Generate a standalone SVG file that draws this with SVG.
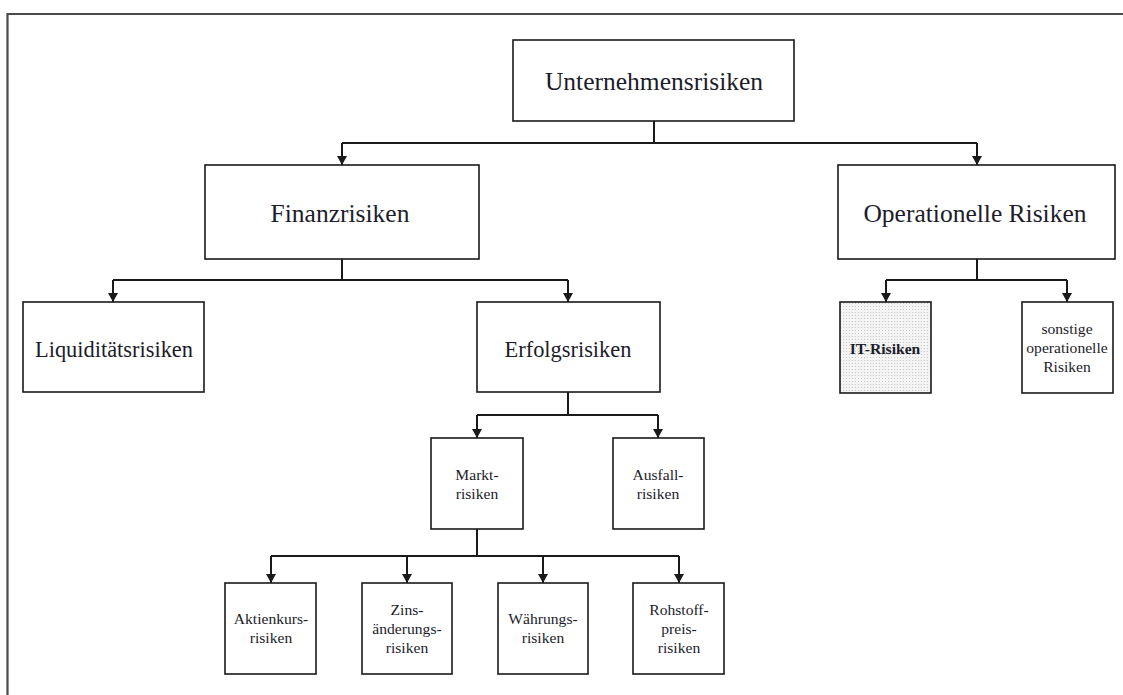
<svg xmlns="http://www.w3.org/2000/svg" width="1123" height="695" viewBox="0 0 1123 695">
  <style>
    .box { fill: #fff; stroke: #1a1a1a; stroke-width: 1.6; }
    .hatched { fill: url(#dots); stroke: #1a1a1a; stroke-width: 1.6; }
    .frame { fill: none; stroke: #4a4a4a; stroke-width: 2.2; }
    .link { fill: none; stroke: #1a1a1a; stroke-width: 2; }
    .arrow { fill: none; stroke: #1a1a1a; stroke-width: 2; marker-end: url(#tip); }
    .big { font-family: "Liberation Serif", "Times New Roman", serif; font-size: 25.5px; fill: #1c1c2a; text-anchor: middle; }
    .mid { font-family: "Liberation Serif", "Times New Roman", serif; font-size: 22.4px; fill: #1c1c2a; text-anchor: middle; }
    .small { font-family: "Liberation Serif", "Times New Roman", serif; font-size: 15.6px; fill: #1c1c2a; text-anchor: middle; }
    .bold { font-weight: bold; }
  </style>
  <defs>
    <marker id="tip" markerWidth="10" markerHeight="10" refX="9" refY="5" orient="auto" markerUnits="userSpaceOnUse">
      <path d="M0,0 L9,5 L0,10 Z" fill="#1a1a1a"/>
    </marker>
    <pattern id="dots" width="3" height="3" patternUnits="userSpaceOnUse">
      <rect width="3" height="3" fill="#f4f4f4"/>
      <rect width="1" height="1" fill="#c8c8c8"/>
    </pattern>
  </defs>

  <rect width="1123" height="695" fill="#fff"/>

  <!-- page frame -->
  <path class="frame" d="M7.5,695 V14 H1123"/>

  <!-- connectors -->
  <g id="connectors">
    <path class="link" d="M654,121 V143 M342,143 H977"/>
    <path class="arrow" d="M342,143 V165"/>
    <path class="arrow" d="M977,143 V165"/>

    <path class="link" d="M342,259 V280 M113,280 H568"/>
    <path class="arrow" d="M113,280 V302"/>
    <path class="arrow" d="M568,280 V302"/>

    <path class="link" d="M977,259 V280 M886,280 H1067"/>
    <path class="arrow" d="M886,280 V302"/>
    <path class="arrow" d="M1067,280 V302"/>

    <path class="link" d="M568,392 V415 M477,415 H658"/>
    <path class="arrow" d="M477,415 V438"/>
    <path class="arrow" d="M658,415 V438"/>

    <path class="link" d="M477,529 V556 M271,556 H679"/>
    <path class="arrow" d="M271,556 V583"/>
    <path class="arrow" d="M407,556 V583"/>
    <path class="arrow" d="M543,556 V583"/>
    <path class="arrow" d="M679,556 V583"/>
  </g>

  <g id="unternehmensrisiken">
    <rect class="box" x="513" y="40" width="281" height="81"/>
    <text class="big" x="654" y="90">Unternehmensrisiken</text>
  </g>

  <g id="finanzrisiken">
    <rect class="box" x="205" y="165" width="274" height="94"/>
    <text class="big" x="340" y="222">Finanzrisiken</text>
  </g>

  <g id="operationelle-risiken">
    <rect class="box" x="838" y="165" width="277" height="94"/>
    <text class="big" x="975" y="222">Operationelle Risiken</text>
  </g>

  <g id="liquiditaetsrisiken">
    <rect class="box" x="23" y="302" width="181" height="90"/>
    <text class="mid" x="114" y="357">Liquiditätsrisiken</text>
  </g>

  <g id="erfolgsrisiken">
    <rect class="box" x="477" y="302" width="183" height="90"/>
    <text class="mid" x="568" y="357">Erfolgsrisiken</text>
  </g>

  <g id="it-risiken">
    <rect class="hatched" x="840" y="302" width="91" height="91"/>
    <text class="small bold" x="885" y="354">IT-Risiken</text>
  </g>

  <g id="sonstige-operationelle-risiken">
    <rect class="box" x="1022" y="302" width="91" height="91"/>
    <text class="small" x="1067" y="334">sonstige</text>
    <text class="small" x="1067" y="353">operationelle</text>
    <text class="small" x="1067" y="372">Risiken</text>
  </g>

  <g id="marktrisiken">
    <rect class="box" x="431" y="438" width="92" height="91"/>
    <text class="small" x="477" y="480">Markt-</text>
    <text class="small" x="477" y="499">risiken</text>
  </g>

  <g id="ausfallrisiken">
    <rect class="box" x="613" y="438" width="91" height="91"/>
    <text class="small" x="658" y="480">Ausfall-</text>
    <text class="small" x="658" y="499">risiken</text>
  </g>

  <g id="aktienkursrisiken">
    <rect class="box" x="225" y="583" width="91" height="91"/>
    <text class="small" x="271" y="624">Aktienkurs-</text>
    <text class="small" x="271" y="643">risiken</text>
  </g>

  <g id="zinsaenderungsrisiken">
    <rect class="box" x="362" y="583" width="90" height="91"/>
    <text class="small" x="407" y="615">Zins-</text>
    <text class="small" x="407" y="634">änderungs-</text>
    <text class="small" x="407" y="653">risiken</text>
  </g>

  <g id="waehrungsrisiken">
    <rect class="box" x="498" y="583" width="90" height="91"/>
    <text class="small" x="543" y="624">Währungs-</text>
    <text class="small" x="543" y="643">risiken</text>
  </g>

  <g id="rohstoffpreisrisiken">
    <rect class="box" x="633" y="583" width="91" height="91"/>
    <text class="small" x="679" y="615">Rohstoff-</text>
    <text class="small" x="679" y="634">preis-</text>
    <text class="small" x="679" y="653">risiken</text>
  </g>
</svg>
